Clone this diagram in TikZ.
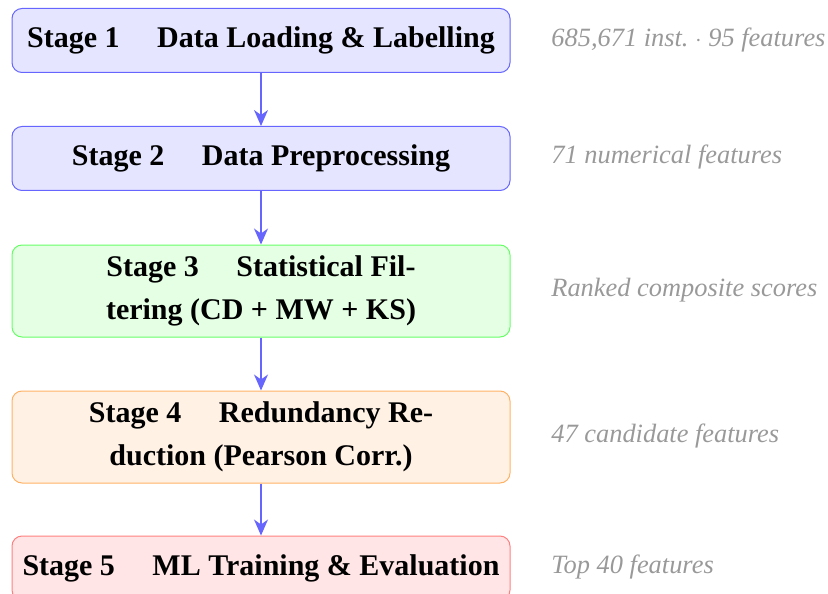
\documentclass[tikz,border=0pt]{standalone}
\usepackage{fontspec}
\setmainfont{Liberation Serif}[
  BoldFont={Liberation Serif Bold},
  ItalicFont={Liberation Serif Italic},
  BoldItalicFont={Liberation Serif Bold Italic}]
\usetikzlibrary{arrows.meta,positioning}

% pipeline stages: one colour pair (fill, border) per stage
\tikzset{
  stagebox/.style={draw, rounded corners=5pt, line width=0.5pt,
    minimum width=249pt, inner sep=0pt, align=center,
    font=\fontsize{15}{21.5}\selectfont\bfseries},
  onerow/.style={minimum height=32pt},
  tworow/.style={minimum height=46pt},
  flow/.style={draw=blue!60, line width=0.65pt,
    -{Stealth[length=8pt,width=7pt,inset=2.5pt]}},
  note/.style={anchor=west, inner sep=0pt, text=gray!80,
    font=\fontsize{13.2}{15}\selectfont\itshape}
}

\begin{document}
\begin{tikzpicture}[x=0.5pt, y=-0.5pt]
  \useasboundingbox (0,0) rectangle (828,593);

  \node[stagebox, onerow, fill=blue!10, draw=blue!60] (s1) at (261,40.5)
    {Stage 1 \quad Data Loading \& Labelling};
  \node[stagebox, onerow, fill=blue!10, draw=blue!60] (s2) at (261,158.5)
    {Stage 2 \quad Data Preprocessing};
  \node[stagebox, tworow, fill=green!10, draw=green!60] (s3) at (261,291)
    {Stage 3 \quad Statistical Fil-\\tering (CD + MW + KS)};
  \node[stagebox, tworow, fill=orange!10, draw=orange!60] (s4) at (261,437)
    {Stage 4 \quad Redundancy Re-\\duction (Pearson Corr.)};
  \node[stagebox, onerow, fill=red!10, draw=red!50] (s5) at (261,568)
    {Stage 5 \quad ML Training \& Evaluation};

  \draw[flow] (s1) -- (s2);
  \draw[flow] (s2) -- (s3);
  \draw[flow] (s3) -- (s4);
  \draw[flow] (s4) -- (s5);

  \node[note] (n1) at (551,40) {685,671 inst.\ $\cdot$ 95 features};
  \node[note] (n2) at (551,157) {71 numerical features};
  \node[note] (n3) at (551,290) {Ranked composite scores};
  \node[note] (n4) at (551,436) {47 candidate features};
  \node[note] (n5) at (551,567) {Top 40 features};
\end{tikzpicture}
\end{document}
